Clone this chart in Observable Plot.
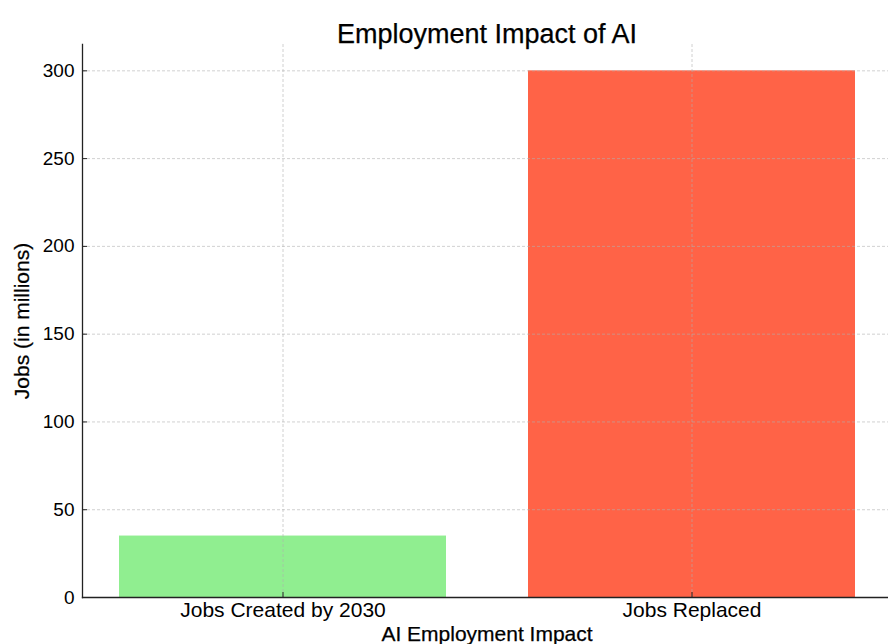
<!DOCTYPE html>
<html>
<head>
<meta charset="utf-8">
<script src="https://cdn.jsdelivr.net/npm/d3@7"></script>
<script src="https://cdn.jsdelivr.net/npm/@observablehq/plot@0.6"></script>
<style>
  html, body { margin: 0; padding: 0; background: #fff; overflow: hidden; }
  #chart { width: 888px; height: 644px; }
</style>
</head>
<body>
<div id="chart"></div>
<script>
const categories = ["Jobs Created by 2030", "Jobs Replaced"];
const values = [35, 300];
const barColors = ["#90EE90", "#FF6347"];
const yTicks = [0, 50, 100, 150, 200, 250, 300];
const title = "Employment Impact of AI";
const xLabel = "AI Employment Impact";
const yLabel = "Jobs (in millions)";

const data = categories.map((c, i) => ({category: c, value: values[i], color: barColors[i]}));

const W = 888, H = 644;
const mL = 82, mT = 44, mB = 47, mR = 0;
const frameW = W - mL - mR, frameH = H - mT - mB;
const font = "'Liberation Sans', Arial, Helvetica, sans-serif";
const gridStyle = {stroke: "#b0b0b0", strokeOpacity: 0.65, strokeWidth: 0.9, strokeDasharray: "3,2"};
const textHeavy = {stroke: "#000", strokeWidth: 0.25};

const chart = Plot.plot({
  width: W,
  height: H,
  marginLeft: mL,
  marginRight: mR,
  marginTop: mT,
  marginBottom: mB,
  style: {fontFamily: font, background: "#fff", color: "#000", overflow: "hidden"},
  x: {type: "band", domain: categories, range: [82, 892], paddingInner: 0.2, paddingOuter: 0.089, axis: null},
  y: {domain: [0, 315], axis: null},
  marks: [
    Plot.barY(data, {x: "category", y: "value", fill: "color"}),
    Plot.gridY(yTicks, gridStyle),
    Plot.gridX(categories, gridStyle),
    // inward ticks
    Plot.tickY(yTicks, {y: d => d, insetRight: frameW - 5, stroke: "#222", strokeWidth: 1}),
    Plot.tickX(categories, {x: d => d, insetTop: frameH - 5, stroke: "#222", strokeWidth: 1}),
    // spines
    Plot.frame({anchor: "left", stroke: "#222", strokeWidth: 1.3}),
    Plot.frame({anchor: "bottom", stroke: "#222", strokeWidth: 1.3}),
    // tick labels
    Plot.axisY(yTicks, {tickSize: 0, tickPadding: 8, fontSize: 19, label: null, fill: "#000", ...textHeavy, tickFormat: d => String(d)}),
    Plot.axisX(categories, {tickSize: 0, tickPadding: 5, fontSize: 21, label: null, fill: "#000", ...textHeavy}),
    // titles
    Plot.text([title], {frameAnchor: "top", lineAnchor: "bottom", dy: -2, dx: 1.5, fontSize: 27, fill: "#000", ...textHeavy}),
    Plot.text([xLabel], {frameAnchor: "bottom", lineAnchor: "bottom", dy: 43, dx: 1.5, fontSize: 21, fill: "#000", ...textHeavy}),
    Plot.text([yLabel], {frameAnchor: "left", rotate: -90, textAnchor: "middle", lineAnchor: "bottom", dx: -54, fontSize: 21, fill: "#000", ...textHeavy})
  ]
});

document.getElementById("chart").appendChild(chart);
</script>
</body>
</html>
